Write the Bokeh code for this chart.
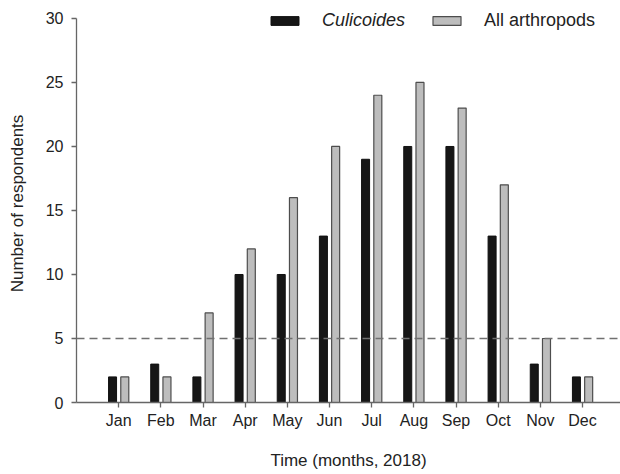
from bokeh.plotting import figure
from bokeh.models import ColumnDataSource, Range1d, FixedTicker, Span, Legend, LegendItem
from bokeh.transform import dodge
from bokeh.embed import file_html
from bokeh.resources import INLINE

months = ["Jan", "Feb", "Mar", "Apr", "May", "Jun", "Jul", "Aug", "Sep", "Oct", "Nov", "Dec"]
month_pos = [1, 2, 3, 4, 5, 6, 7, 8, 9, 10, 11, 12]
culicoides = [2, 3, 2, 10, 10, 13, 19, 20, 20, 13, 3, 2]
all_arthropods = [2, 2, 7, 12, 16, 20, 24, 25, 23, 17, 5, 2]
y_ticks = [0, 5, 10, 15, 20, 25, 30]
threshold = 5

src = ColumnDataSource(dict(x=month_pos, cul=culicoides, allar=all_arthropods))

# frame extends a little above 30 so the legend is not clipped; axis line stops at 30
p = figure(width=620, height=474, output_backend="svg", toolbar_location=None,
           x_range=Range1d(0, 12.9), y_range=Range1d(0, 31.09),
           min_border_left=76, min_border_right=0, min_border_top=4, min_border_bottom=72)
p.outline_line_color = None
p.xgrid.visible = False
p.ygrid.visible = False
p.background_fill_color = "white"
p.border_fill_color = "white"

r1 = p.vbar(x=dodge("x", -0.145, range=p.x_range), top="cul", width=0.19, source=src,
            fill_color="#161616", line_color="#111111", line_width=1)
r2 = p.vbar(x=dodge("x", 0.145, range=p.x_range), top="allar", width=0.19, source=src,
            fill_color="#bdbdbd", line_color="#4d4d4d", line_width=1.2)

p.add_layout(Span(location=threshold, dimension="width", line_color="#707070",
                  line_width=1.5, line_dash="8 5"))

font = "Liberation Sans"
for ax in (p.xaxis[0], p.yaxis[0]):
    ax.axis_line_color = "#666666"
    ax.axis_line_width = 1.3
    ax.major_tick_line_color = "#666666"
    ax.major_tick_line_width = 1.3
    ax.major_tick_in = 0
    ax.major_tick_out = 5
    ax.minor_tick_line_color = None
    ax.major_label_text_font = font
    ax.major_label_text_font_size = "16px"
    ax.major_label_text_color = "#222222"
    ax.axis_label_text_font = font
    ax.axis_label_text_font_size = "17px"
    ax.axis_label_text_font_style = "normal"
    ax.axis_label_text_color = "#222222"

p.xaxis.ticker = FixedTicker(ticks=month_pos)
p.xaxis.major_label_overrides = {m: lab for m, lab in zip(month_pos, months)}
p.xaxis.axis_label = "Time (months, 2018)"
p.xaxis.major_label_standoff = 4
p.xaxis.axis_label_standoff = 19
p.yaxis.ticker = FixedTicker(ticks=y_ticks)
p.yaxis.bounds = (0, 30)
p.yaxis.axis_label = "Number of respondents"
p.yaxis.major_label_standoff = 8
p.yaxis.axis_label_standoff = 16

common = dict(orientation="horizontal", glyph_width=35, glyph_height=11, label_standoff=20,
              padding=0, margin=0, border_line_color=None, background_fill_alpha=0,
              label_text_font=font, label_text_font_size="18px", label_text_color="#222222",
              label_height=12)
leg1 = Legend(items=[LegendItem(label="Culicoides", renderers=[r1])],
              location=(191, 371), label_text_font_style="italic", **common)
leg2 = Legend(items=[LegendItem(label="All arthropods", renderers=[r2])],
              location=(353, 371), **common)
p.add_layout(leg1)
p.add_layout(leg2)

open("out.html", "w").write(file_html(p, INLINE))
